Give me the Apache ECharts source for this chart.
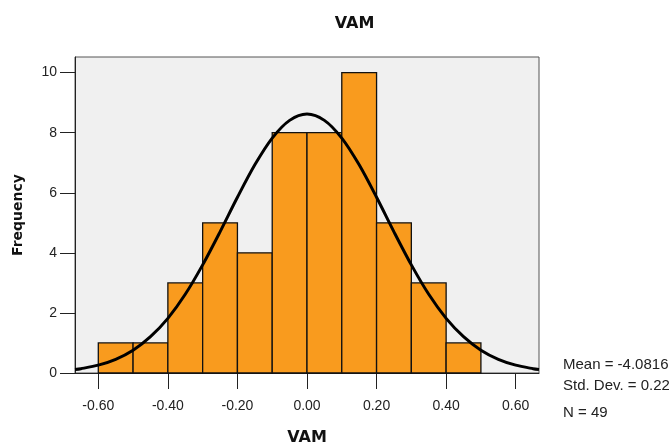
<!DOCTYPE html>
<html>
<head>
<meta charset="utf-8">
<script src="https://cdn.jsdelivr.net/npm/echarts@6/dist/echarts.min.js"></script>
<style>
  html, body { margin: 0; padding: 0; background: #fff; }
  #chart { width: 669px; height: 443px; }
</style>
</head>
<body>
<div id="chart"></div>
<script>
// Histogram bins of VAM (width 0.10)
const binStart = [-0.6, -0.5, -0.4, -0.3, -0.2, -0.1, 0.0, 0.1, 0.2, 0.3, 0.4];
const binEnd   = [-0.5, -0.4, -0.3, -0.2, -0.1, 0.0, 0.1, 0.2, 0.3, 0.4, 0.5];
const frequency = [1, 1, 3, 5, 4, 8, 8, 10, 5, 3, 1];

// Fitted normal curve (expected frequency per bin)
const curveX = [-0.667, -0.65, -0.6, -0.55, -0.5, -0.45, -0.4, -0.35, -0.3, -0.25, -0.2, -0.15, -0.1, -0.05,
                0, 0.05, 0.1, 0.15, 0.2, 0.25, 0.3, 0.35, 0.4, 0.45, 0.5, 0.55, 0.6, 0.65, 0.667];
const curveY = [0.115, 0.143, 0.262, 0.457, 0.76, 1.21, 1.82, 2.62, 3.60, 4.70, 5.85, 6.93, 7.82, 8.41,
                8.62, 8.41, 7.82, 6.93, 5.85, 4.70, 3.60, 2.62, 1.82, 1.21, 0.76, 0.457, 0.262, 0.143, 0.115];

// Axis ticks
const xTicks = [-0.6, -0.4, -0.2, 0.0, 0.2, 0.4, 0.6];
const yTicks = [0, 2, 4, 6, 8, 10];

// Summary statistics
const statLines = ['Mean = -4.0816E-17', 'Std. Dev. = 0.22683', 'N = 49'];

const barData = binStart.map((s, i) => [s, binEnd[i], frequency[i]]);
const curveData = curveX.map((x, i) => [x, curveY[i]]);

const chart = echarts.init(document.getElementById('chart'), null, { renderer: 'canvas' });

const labelFont = { fontFamily: 'Liberation Sans, Arial, sans-serif', fontSize: 14, color: '#222' };
const statFont = '15px "Liberation Sans", Arial';

chart.setOption({
  animation: false,
  backgroundColor: '#ffffff',
  grid: {
    left: 75, right: 130, top: 57, bottom: 70,
    outerBoundsMode: 'none',
    containLabel: false,
    show: true, backgroundColor: '#f0f0f0', borderColor: '#555', borderWidth: 1
  },
  xAxis: {
    type: 'value',
    min: -0.667, max: 0.667,
    name: 'VAM',
    nameLocation: 'middle',
    nameGap: 57,
    nameTextStyle: { fontFamily: 'DejaVu Sans', fontWeight: 'bold', fontSize: 16, color: '#111' },
    axisLine: { show: true, onZero: false, lineStyle: { color: '#222', width: 1 } },
    axisTick: { show: true, customValues: xTicks, length: 16, lineStyle: { color: '#222', width: 1 } },
    axisLabel: Object.assign({ customValues: xTicks, margin: 26, formatter: v => v.toFixed(2) }, labelFont),
    splitLine: { show: false }
  },
  yAxis: {
    type: 'value',
    min: 0, max: 10.52,
    name: 'Frequency',
    nameLocation: 'middle',
    nameGap: 50,
    nameRotate: 90,
    nameTextStyle: { fontFamily: 'DejaVu Sans', fontWeight: 'bold', fontSize: 14, color: '#111' },
    axisLine: { show: true, onZero: false, lineStyle: { color: '#222', width: 1 } },
    axisTick: { show: true, customValues: yTicks, length: 15, lineStyle: { color: '#222', width: 1 } },
    axisLabel: Object.assign({ customValues: yTicks, margin: 18 }, labelFont),
    splitLine: { show: false }
  },
  series: [
    {
      type: 'custom',
      data: barData,
      encode: { x: [0, 1], y: 2 },
      renderItem: function (params, api) {
        const p0 = api.coord([api.value(0), api.value(2)]);
        const p1 = api.coord([api.value(1), 0]);
        return {
          type: 'rect',
          shape: { x: p0[0], y: p0[1], width: p1[0] - p0[0], height: p1[1] - p0[1] },
          style: { fill: '#f99b1e', stroke: '#111', lineWidth: 1.3 }
        };
      },
      z: 2
    },
    {
      type: 'line',
      data: curveData,
      smooth: 0.3,
      showSymbol: false,
      clip: true,
      lineStyle: { color: '#000', width: 3 },
      z: 3
    }
  ],
  graphic: [
    {
      type: 'text', x: 354.5, y: 23.5,
      style: { text: 'VAM', font: 'bold 16px "DejaVu Sans"', fill: '#111',
               textAlign: 'center', textVerticalAlign: 'middle' }
    },
    {
      type: 'text', x: 563, y: 365,
      style: { text: statLines[0], font: statFont, fill: '#222', textVerticalAlign: 'middle' }
    },
    {
      type: 'text', x: 563, y: 386,
      style: { text: statLines[1], font: statFont, fill: '#222', textVerticalAlign: 'middle' }
    },
    {
      type: 'text', x: 563, y: 413,
      style: { text: statLines[2], font: statFont, fill: '#222', textVerticalAlign: 'middle' }
    }
  ]
});
</script>
</body>
</html>
